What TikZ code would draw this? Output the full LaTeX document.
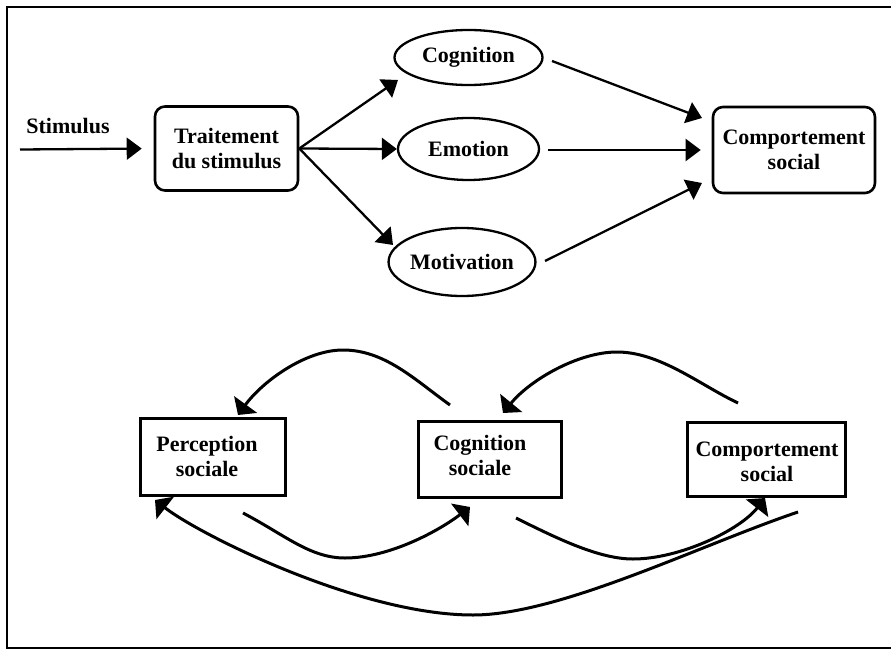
\documentclass[tikz,border=0pt]{standalone}
\usepackage{fontspec}
\setmainfont{Liberation Serif}
\usetikzlibrary{arrows.meta,shapes.geometric}
\begin{document}
\begin{tikzpicture}[x=1pt,y=-1pt,
  txt/.style={font=\bfseries\fontsize{22}{25}\selectfont, align=center, inner sep=0pt},
  rbox/.style={txt, draw, line width=2.6pt, rounded corners=10pt},
  ell/.style={txt, draw, ellipse, line width=2.3pt},
  sbox/.style={draw, rectangle, line width=3pt, inner sep=0pt},
  arr/.style={line width=2.3pt, -{Triangle[length=15pt,width=22pt]}},
  carr/.style={line width=3pt, -{Triangle[length=13pt,width=28pt]}}]
\useasboundingbox (0,0) rectangle (891,650);
\draw[line width=2.4pt] (7,7) rectangle (900,648);

% top row
\node[txt] (stim) at (68,126) {Stimulus};
\node[rbox, minimum width=143pt, minimum height=84pt] (trait) at (226.5,148.5) {Traitement\\du stimulus};
\node[ell, minimum width=148pt, minimum height=55pt] (cog) at (468.5,57.5) {Cognition};
\node[ell, minimum width=141pt, minimum height=62pt] (emo) at (468.5,149) {Emotion};
\node[ell, minimum width=142pt, minimum height=68pt] (mot) at (462,262) {Motivation};
\node[rbox, minimum width=162pt, minimum height=86pt] (comp) at (794,150) {Comportement\\social};

\coordinate (s0) at (20,149.5);
\coordinate (c1) at (398,80);
\coordinate (m1) at (393,245);
\coordinate (co) at (552,61);
\coordinate (ci1) at (702,118);
\coordinate (eo) at (548,150);
\coordinate (mo) at (545,261);
\coordinate (ci3) at (702,183);

\draw[arr, shorten >=12pt] (s0) -- (trait.west);
\draw[arr] (trait.east) -- (c1);
\draw[arr] (trait.east) -- (emo.west);
\draw[arr] (trait.east) -- (m1);
\draw[arr] (co) -- (ci1);
\draw[arr, shorten >=11pt] (eo) -- (comp.west);
\draw[arr] (mo) -- (ci3);

% bottom row
\node[sbox, minimum width=145pt, minimum height=77pt] (perc) at (212.5,456.5) {};
\node[txt] (percT) at (207,456) {Perception\\sociale};
\node[sbox, minimum width=143pt, minimum height=76pt] (cogs) at (489.5,459) {};
\node[txt] (cogsT) at (480,455) {Cognition\\sociale};
\node[sbox, minimum width=158pt, minimum height=74pt] (comps) at (766,459) {};
\node[txt] (compsT) at (767,462) {Comportement\\social};

\coordinate (a1s) at (450,405);
\coordinate (a1t) at (238,415);
\coordinate (a2s) at (738,403);
\coordinate (a2t) at (503,413);
\coordinate (b1s) at (243,513);
\coordinate (b1t) at (470,507);
\coordinate (b2s) at (516,518);
\coordinate (b2t) at (765,498);
\coordinate (b3s) at (798,512);
\coordinate (b3t) at (155,500);

\draw[carr] (a1s) .. controls (415,380) and (385,350) .. (343,350)
  .. controls (305,350) and (262,382) .. (a1t);
\draw[carr] (a2s) .. controls (700,385) and (660,352) .. (617,352)
  .. controls (578,352) and (530,380) .. (a2t);
\draw[carr] (b1s) .. controls (285,535) and (310,558) .. (345,558)
  .. controls (390,558) and (440,530) .. (b1t);
\draw[carr] (b2s) .. controls (560,540) and (600,559) .. (633,559)
  .. controls (680,559) and (740,530) .. (b2t);
\draw[carr] (b3s) .. controls (700,545) and (560,615) .. (473,615)
  .. controls (360,615) and (200,535) .. (b3t);
\end{tikzpicture}
\end{document}
